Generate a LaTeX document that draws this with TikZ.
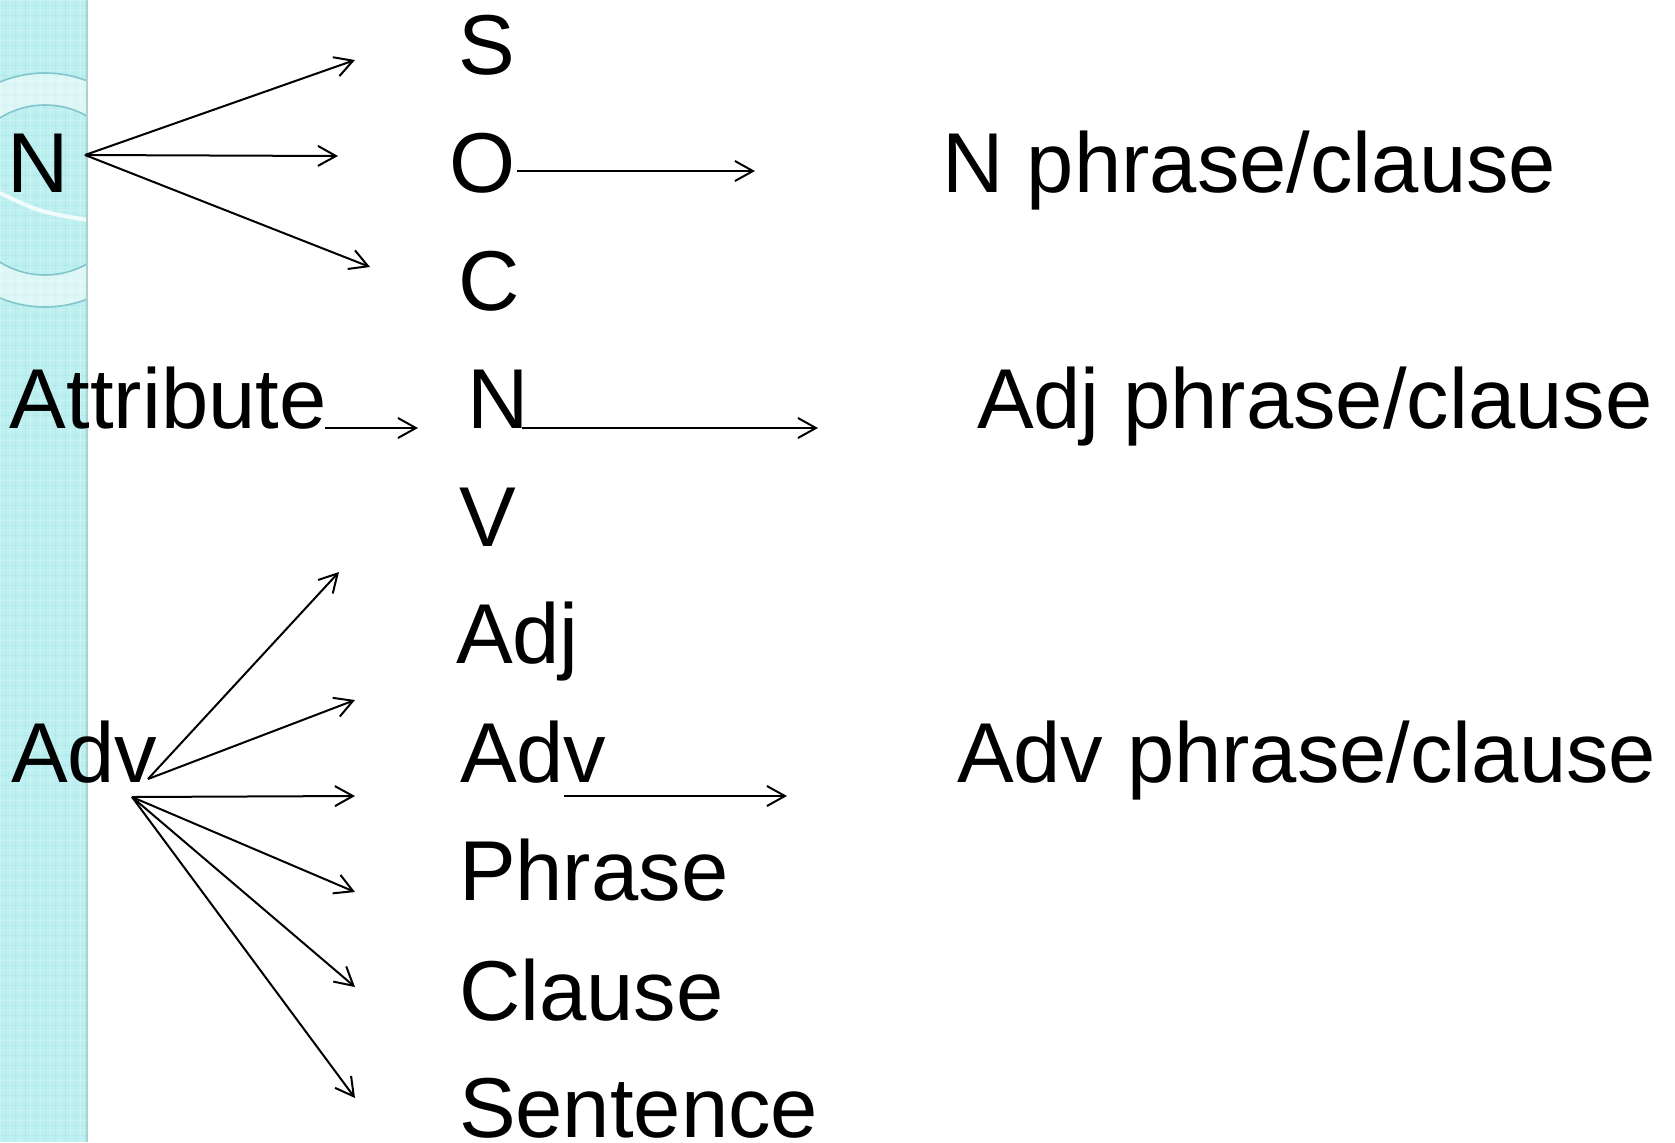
\documentclass[tikz,border=0pt]{standalone}
\usepackage{fontspec}
\setmainfont{Liberation Sans}
\usetikzlibrary{arrows.meta}
\definecolor{stripcol}{RGB}{188,240,240}
\definecolor{ringline}{RGB}{128,198,204}
\definecolor{stripedge}{RGB}{175,208,208}
\begin{document}
\begin{tikzpicture}[x=0.5pt,y=-0.5pt,
  txt/.style={anchor=base west, inner sep=0pt, outer sep=0pt, font=\fontsize{42.5}{50}\selectfont},
  arr/.style={-{Straight Barb[length=9pt,width=10pt]}, line width=1pt}]
\useasboundingbox (0,0) rectangle (1675,1142);
\fill[white] (0,0) rectangle (1675,1142);
% decorative strip
\begin{scope}
\clip (0,0) rectangle (88,1142);
\fill[stripcol] (0,0) rectangle (88,1142);
\foreach \i in {0,10,...,90} \draw[white, opacity=0.2, line width=0.5pt] (\i,0) -- (\i,1142);
\foreach \j in {0,10,...,1140} \draw[white, opacity=0.2, line width=0.5pt] (0,\j) -- (88,\j);
\foreach \i in {5,15,...,95} \draw[ringline, opacity=0.12, line width=0.4pt] (\i,0) -- (\i,1142);
\foreach \j in {5,15,...,1145} \draw[ringline, opacity=0.12, line width=0.4pt] (0,\j) -- (88,\j);
\fill[white, opacity=0.5, even odd rule] (45,190) circle[radius=117] (45,190) circle[radius=85];
\draw[ringline, line width=0.8pt] (45,190) circle[radius=117];
\draw[ringline, line width=0.8pt] (45,190) circle[radius=85];
\draw[white, opacity=0.8, line width=2pt] (0,193) .. controls (40,212) .. (88,220);
\fill[stripedge] (86,0) rectangle (88,1142);
\end{scope}
% texts
\node[txt] (nL) at (8,192) {N};
\node[txt] (attr) at (10,428) {Attribute};
\node[txt] (advL) at (11,782) {Adv};
\node[txt] (S) at (458,74) {S};
\node[txt] (O) at (449,192) {O};
\node[txt] (C) at (458,310) {C};
\node[txt] (nM) at (467,428) {N};
\node[txt] (V) at (459,546) {V};
\node[txt] (adj) at (456,663) {Adj};
\node[txt] (advM) at (460,782) {Adv};
\node[txt] (phr) at (459,900) {Phrase};
\node[txt] (cla) at (459,1020) {Clause};
\node[txt] (sen) at (459,1137) {Sentence};
\node[txt] (nR) at (942,192) {N phrase/clause};
\node[txt] (adjR) at (977,428) {Adj phrase/clause};
\node[txt] (advR) at (957,782) {Adv phrase/clause};
% connector end points
\coordinate (nOut) at (85,155);
\coordinate (sIn) at (355,60);
\coordinate (oIn) at (338,156);
\coordinate (cIn) at (370,267);
\coordinate (oOut) at (517,171);
\coordinate (oEnd) at (755,171);
\coordinate (attrOut) at (325,428);
\coordinate (attrEnd) at (418,428);
\coordinate (nMOut) at (522,428);
\coordinate (nMEnd) at (818,428);
\coordinate (advMOut) at (564,796);
\coordinate (advMEnd) at (787,796);
\coordinate (advOutA) at (148,779);
\coordinate (advOutB) at (132,797);
\coordinate (t1) at (339,572);
\coordinate (t2) at (355,700);
\coordinate (t3) at (355,796);
\coordinate (t4) at (355,892);
\coordinate (t5) at (355,987);
\coordinate (t6) at (355,1098);
% connectors
\draw[arr] (nOut) -- (sIn);
\draw[arr] (nOut) -- (oIn);
\draw[arr] (nOut) -- (cIn);
\draw[arr] (oOut) -- (oEnd);
\draw[arr] (attrOut) -- (attrEnd);
\draw[arr] (nMOut) -- (nMEnd);
\draw[arr] (advMOut) -- (advMEnd);
\draw[arr] (advOutA) -- (t1);
\draw[arr] (advOutA) -- (t2);
\draw[arr] (advOutB) -- (t3);
\draw[arr] (advOutB) -- (t4);
\draw[arr] (advOutB) -- (t5);
\draw[arr] (advOutB) -- (t6);
\end{tikzpicture}
\end{document}
